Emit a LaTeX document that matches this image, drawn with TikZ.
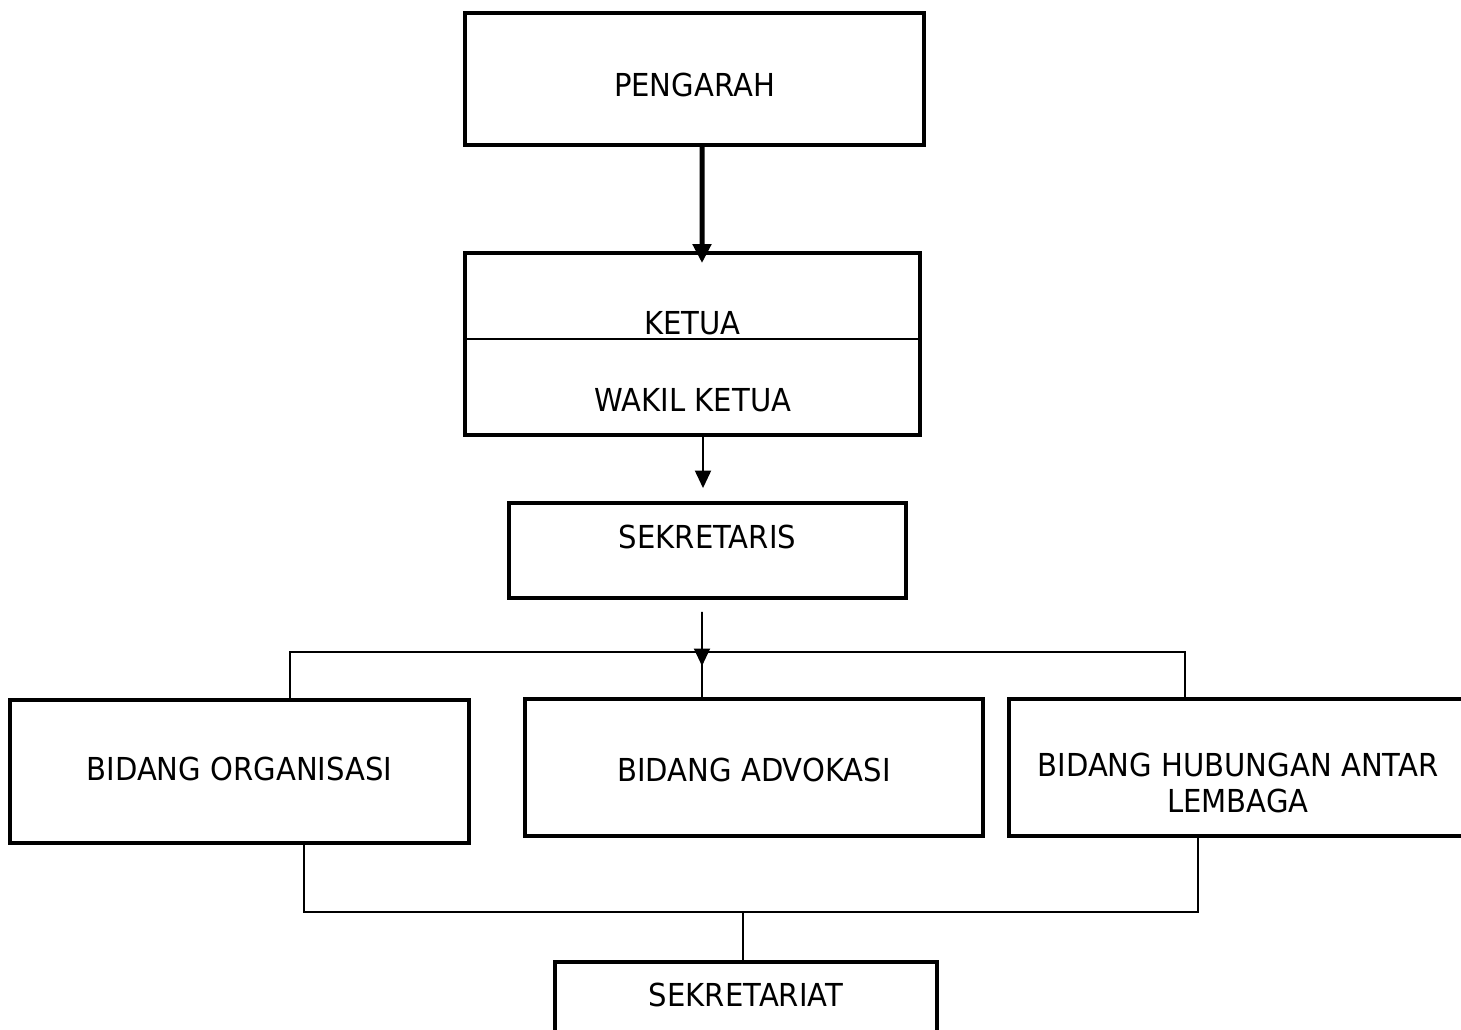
\documentclass[tikz,border=0pt]{standalone}
\usepackage{xcolor}
\usepackage{fontspec}
\setmainfont{DejaVu Sans}[FakeStretch=0.92]
\usepackage{tikz}
\usetikzlibrary{arrows.meta,positioning,calc}
\tikzset{
  box/.style={draw, line width=2.2pt, inner sep=0pt, anchor=base, align=center, font=\fontsize{18pt}{20pt}\selectfont},
  label_text/.style={inner sep=0pt, anchor=base, font=\fontsize{18pt}{20pt}\selectfont},
  link/.style={draw, line width=0.85pt},
  link_arrow/.style={draw, line width=1.1pt, -{Triangle[width=0.32cm, length=0.35cm]}},
  main_arrow/.style={draw, line width=2.85pt, -{Triangle[width=0.36cm, length=0.38cm]}}
}

\begin{document}
\begin{tikzpicture}[x=0.02cm, y=-0.02cm]
      \useasboundingbox (0, 0) rectangle (1461, 1030);
      \node (pengarah) [box, minimum width=9.18cm, text height=1.68cm, text depth=0.96cm] at (694.5, 97) {PENGARAH};
      \node (ketua) [draw, line width=2.2pt, minimum width=9.1cm, minimum height=3.64cm] at (692.5, 344) {};
      \node (ketua_text) [label_text] at (692.5, 335) {KETUA};
      \node (wakil_text) [label_text] at (693, 412) {WAKIL KETUA};
      \node (sekretaris) [box, minimum width=7.94cm, text height=0.9cm, text depth=1.0cm] at (707.5, 548) {SEKRETARIS};
      \node (organisasi) [box, minimum width=9.18cm, text height=1.6cm, text depth=1.26cm] at (239.5, 780) {BIDANG ORGANISASI};
      \node (advokasi) [box, minimum width=9.16cm, text height=1.64cm, text depth=1.1cm] at (754, 781) {BIDANG ADVOKASI};
      \node (hubungan) [box, minimum width=9.16cm, text height=2.26cm, text depth=0.48cm] at (1238, 812) {BIDANG HUBUNGAN ANTAR\\LEMBAGA};
      \node (sekretariat) [box, minimum width=7.64cm, text height=0.88cm, text depth=0.78cm] at (746, 1006) {SEKRETARIAT};
      \coordinate (bus) at (702, 652);
      \coordinate (join) at (743, 912);

      % ketua / wakil divider
      \draw [line width=0.85pt] ([yshift=0.1cm]ketua.west) to ([yshift=0.1cm]ketua.east);

      \draw [main_arrow] ([xshift=0.15cm]pengarah.south) to ([xshift=0.19cm, yshift=-0.24cm]ketua.north);
      \draw [link_arrow] ([xshift=0.21cm]ketua.south) to ([xshift=-0.09cm, yshift=0.26cm]sekretaris.north);
      \draw [link_arrow] ([xshift=-0.11cm, yshift=-0.24cm]sekretaris.south) to ([yshift=-0.28cm]bus);
      \draw [link] ([xshift=1.01cm]organisasi.north) |- (bus) -| ([xshift=-1.06cm]hubungan.north);
      \draw [link] (bus) to (bus |- advokasi.north);
      \draw [link] ([xshift=1.29cm]organisasi.south) |- (join) -| ([xshift=-0.8cm]hubungan.south);
      \draw [link] (join) to (join |- sekretariat.north);
    \end{tikzpicture}
\end{document}
